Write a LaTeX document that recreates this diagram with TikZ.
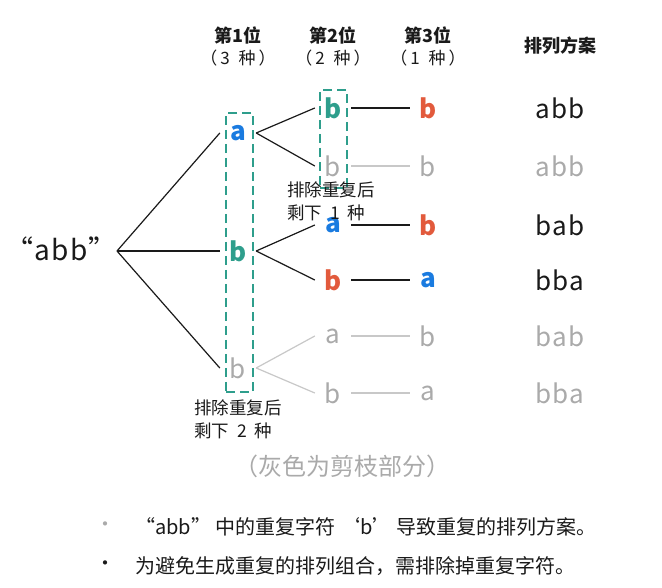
\documentclass[tikz,border=0pt]{standalone}
\usepackage{fontspec}
\setmainfont{Noto Sans CJK SC}
\newfontfamily\spfont[LetterSpace=5]{Noto Sans CJK SC}
\definecolor{cblue}{HTML}{1A7BE0}
\definecolor{cteal}{HTML}{2E9E8C}
\definecolor{cred}{HTML}{E25A3C}
\definecolor{cgray}{HTML}{AAAAAA}
\definecolor{clgray}{HTML}{C8C8C8}
\definecolor{ctxt}{HTML}{1A1A1A}
\tikzset{
  letter/.style={minimum width=36pt, minimum height=26pt, inner sep=0pt, font=\fontsize{26}{28}\selectfont},
  bletter/.style={letter, font=\bfseries\fontsize{26}{28}\selectfont},
  res/.style={inner sep=0pt, font=\spfont\fontsize{26}{28}\selectfont},
  hdr/.style={inner sep=0pt, align=center, font=\fontsize{17}{22}\selectfont, text=ctxt},
  note/.style={inner sep=0pt, align=left, font=\fontsize{17.5}{23}\selectfont, text=ctxt},
  dark/.style={draw=ctxt, line width=1.2pt},
  light/.style={draw=clgray, line width=1.2pt},
  dbox/.style={draw=cteal, dash pattern=on 9pt off 5pt, line width=1.4pt, inner sep=0pt},
  bul/.style={inner sep=0pt, anchor=west, font=\fontsize{20}{24}\selectfont, text=ctxt}
}
\newcommand{\zhong}[1]{（\hspace{3pt}#1\hspace{9pt}种\hspace{3pt}）}
\begin{document}
\begin{tikzpicture}[x=1pt,y=-1pt]
\useasboundingbox[fill=white] (0,0) rectangle (662,588);
% headers
\node[hdr] (h1) at (238,46) {{\bfseries\fontsize{18}{22}\selectfont 第1位}\\\zhong{3}};
\node[hdr] (h2) at (333,46) {{\bfseries\fontsize{18}{22}\selectfont 第2位}\\\zhong{2}};
\node[hdr] (h3) at (428,46) {{\bfseries\fontsize{18}{22}\selectfont 第3位}\\\zhong{1}};
\node[hdr, font=\bfseries\fontsize{18}{22}\selectfont] (h4) at (560,46) {排列方案};
% root
\node[inner sep=0pt, font=\spfont\fontsize{28}{30}\selectfont, text=ctxt] (root) at (61,249) {“abb”};
\coordinate (rootr) at (117,251);
% level 1
\node[bletter, text=cblue] (a1) at (238,133) {a};
\node[bletter, text=cteal] (b1) at (238,251) {b};
\node[letter, text=cgray] (g1) at (238,368) {b};
% level 2
\node[bletter, text=cteal] (l2a) at (333,108) {b};
\node[letter, text=cgray] (l2b) at (333,166) {b};
\node[bletter, text=cblue] (l2c) at (333,225) {a};
\node[bletter, text=cred] (l2d) at (333,280) {b};
\node[letter, text=cgray] (l2e) at (333,336) {a};
\node[letter, text=cgray] (l2f) at (333,393) {b};
% level 3
\node[bletter, text=cred] (l3a) at (428,108) {b};
\node[letter, text=cgray] (l3b) at (428,166) {b};
\node[bletter, text=cred] (l3c) at (428,225) {b};
\node[bletter, text=cblue] (l3d) at (428,280) {a};
\node[letter, text=cgray] (l3e) at (428,336) {b};
\node[letter, text=cgray] (l3f) at (428,393) {a};
% results
\node[res, text=ctxt] (r1) at (560,108) {abb};
\node[res, text=cgray] (r2) at (560,166) {abb};
\node[res, text=ctxt] (r3) at (560,225) {bab};
\node[res, text=ctxt] (r4) at (560,280) {bba};
\node[res, text=cgray] (r5) at (560,336) {bab};
\node[res, text=cgray] (r6) at (560,393) {bba};
% connectors
\draw[dark] (rootr) -- (a1.west);
\draw[dark] (rootr) -- (b1.west);
\draw[dark] (rootr) -- (g1.west);
\draw[dark] (a1.east) -- (l2a.west);
\draw[dark] (a1.east) -- (l2b.west);
\draw[dark] (b1.east) -- (l2c.west);
\draw[dark] (b1.east) -- (l2d.west);
\draw[light] (g1.east) -- (l2e.west);
\draw[light] (g1.east) -- (l2f.west);
\draw[dark] (l2a.east) -- (l3a.west);
\draw[light] (l2b.east) -- (l3b.west);
\draw[dark] (l2c.east) -- (l3c.west);
\draw[dark] (l2d.east) -- (l3d.west);
\draw[light] (l2e.east) -- (l3e.west);
\draw[light] (l2f.east) -- (l3f.west);
% dashed boxes
\node[dbox, minimum width=27pt, minimum height=279pt] (box1) at (239.5,252.5) {};
\node[dbox, minimum width=27pt, minimum height=98pt] (box2) at (333.5,139) {};
% notes
\node[note, anchor=west] (n1) at (287,201.5) {排除重复后\\剩下\ \ 1\ \ 种};
\node[note, anchor=west] (n2) at (194,419) {排除重复后\\剩下\ \ 2\ \ 种};
\node[inner sep=0pt, font=\fontsize{24}{28}\selectfont, text=cgray] (cap) at (342,466) {（灰色为剪枝部分）};
% bullets
\node[bul, text=cgray] (d1) at (95,527) {•};
\node[bul] (t1) at (135,527) {“abb” 中的重复字符 ‘b’ 导致重复的排列方案。};
\node[bul, text=ctxt] (d2) at (95,566) {•};
\node[bul] (t2) at (135,566) {为避免生成重复的排列组合，需排除掉重复字符。};
\end{tikzpicture}
\end{document}
